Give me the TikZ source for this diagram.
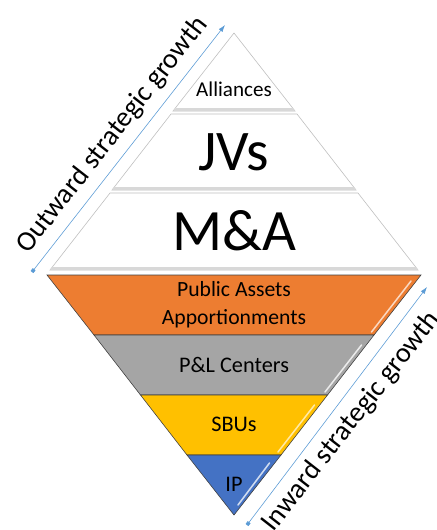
\documentclass[tikz,border=0pt]{standalone}
\usepackage{fontspec}
\setmainfont{Carlito}
\usetikzlibrary{arrows.meta}
\definecolor{BandOrange}{HTML}{ED7D31}
\definecolor{BandGray}{HTML}{A5A5A5}
\definecolor{BandGold}{HTML}{FFC000}
\definecolor{BandBlue}{HTML}{4472C4}
\definecolor{ArrowBlue}{HTML}{5B9BD5}
\definecolor{EdgeGray}{HTML}{BFBFBF}

\begin{document}
\begin{tikzpicture}[x=0.03cm, y=-0.03cm,
    upperband/.style={fill=white, draw=EdgeGray, line width=0.5pt},
    lowerband/.style={draw=black!75, line width=0.5pt},
    shine/.style={line width=1.3pt, line cap=round},
    growth/.style={ArrowBlue, line width=0.5pt, {Square[length=3pt,width=3pt]}-{Latex[length=6pt,width=4pt]}},
    sidelabel/.style={rotate=52, font=\fontsize{24}{28}\selectfont}]
    \useasboundingbox (0,0) rectangle (436,530);

    % Outward part (upper triangle)
    \draw[upperband] (234,33) -- (295,111) -- (173,111) -- cycle;
    \fill[EdgeGray!60] (176,108) -- (292,108) -- (295,111) -- (173,111) -- cycle;
    \draw[upperband] (171,114) -- (297,114) -- (356,190) -- (112,190) -- cycle;
    \fill[EdgeGray!60] (114,187) -- (354,187) -- (356,190) -- (112,190) -- cycle;
    \draw[upperband] (110,193) -- (358,193) -- (418,270) -- (50,270) -- cycle;
    \fill[EdgeGray!60] (52,267) -- (416,267) -- (418,270) -- (50,270) -- cycle;

    \node (alliances) at (234,89) {\fontsize{18}{20}\selectfont Alliances};
    \node (jvs) at (234,152) {\fontsize{49}{52}\selectfont JVs};
    \node (ma) at (234,231) {\fontsize{50}{54}\selectfont M\&A};

    % Inward part (lower triangle)
    \fill[BandOrange, lowerband] (47,275) -- (421,275) -- (374,335) -- (94,335) -- cycle;
    \fill[BandGray, lowerband] (94,335) -- (374,335) -- (327.5,395) -- (140.5,395) -- cycle;
    \fill[BandGold, lowerband] (140.5,395) -- (327.5,395) -- (281,455) -- (187,455) -- cycle;
    \fill[BandBlue, lowerband] (187,455) -- (281,455) -- (234,515) -- cycle;

    \draw[shine, BandOrange!30!white] (371.5,332) -- (411,281);
    \draw[shine, white!92!black] (325,392) -- (361.5,345);
    \draw[shine, BandGold!35!white] (278,452) -- (314.5,405);
    \draw[shine, BandBlue!25!white] (238,505) -- (269.5,463);

    \node[align=center, font=\fontsize{18.5}{24}\selectfont] (assets) at (234,305) {Public Assets\\Apportionments};
    \node[font=\fontsize{19}{22}\selectfont] (centers) at (234,365) {P\&L Centers};
    \node[font=\fontsize{19}{22}\selectfont] (sbus) at (234,424) {SBUs};
    \node[font=\fontsize{19}{22}\selectfont] (ip) at (234,484) {IP};

    % growth arrows
    \coordinate (outS) at (32,272);
    \coordinate (outE) at (225,25);
    \coordinate (inS) at (247,525);
    \coordinate (inE) at (427,287);
    \draw[growth] (outS) -- (outE);
    \draw[growth] (inS) -- (inE);

    \node[sidelabel] (outward) at (112.5,135) {Outward strategic growth};
    \node[sidelabel] (inward) at (351.5,421.5) {Inward strategic growth};
\end{tikzpicture}
\end{document}
